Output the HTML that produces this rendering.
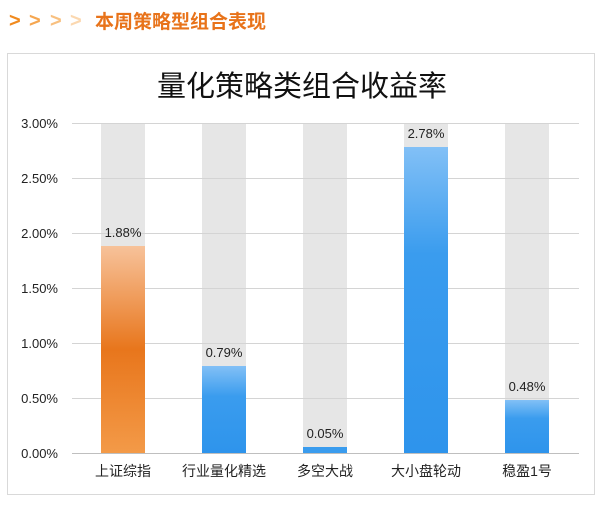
<!DOCTYPE html>
<html><head><meta charset="utf-8"><style>
body{margin:0;background:#fff;width:604px;height:504px;overflow:hidden;font-family:"Liberation Sans","Noto Sans CJK SC",sans-serif;}
</style></head><body>
<svg width="604" height="504" xmlns="http://www.w3.org/2000/svg" font-family="Liberation Sans, Noto Sans CJK SC, sans-serif">
<defs>
<linearGradient id="og" x1="0" y1="0" x2="0" y2="1">
<stop offset="0" stop-color="#f7c29a"/><stop offset="0.5" stop-color="#e8761c"/><stop offset="1" stop-color="#f39a48"/>
</linearGradient>
<linearGradient id="bg" x1="0" y1="0" x2="0" y2="1">
<stop offset="0" stop-color="#82c0f6"/><stop offset="0.35" stop-color="#3a9cee"/><stop offset="1" stop-color="#2e94ec"/>
</linearGradient>
</defs>
<g font-size="20" font-weight="bold">
<text x="9" y="27" fill="#f08a1e">&gt;</text>
<text x="29" y="27" fill="#f5a650">&gt;</text>
<text x="50" y="27" fill="#f8c080">&gt;</text>
<text x="70" y="27" fill="#fbd8b0">&gt;</text>
<text x="95" y="28" fill="#e8731a" font-size="19">本周策略型组合表现</text>
</g>
<rect x="7.5" y="53.5" width="587" height="441" fill="#fff" stroke="#d9d9d9"/>
<text x="302" y="96" text-anchor="middle" font-size="29" fill="#111" font-family="Noto Sans CJK SC, sans-serif">量化策略类组合收益率</text>
<g fill="#e6e6e6">
<rect x="101" y="123" width="44" height="330"/>
<rect x="202" y="123" width="44" height="330"/>
<rect x="303" y="123" width="44" height="330"/>
<rect x="404" y="123" width="44" height="330"/>
<rect x="505" y="123" width="44" height="330"/>
</g>
<g stroke="#d4d4d4" stroke-width="1">
<line x1="72" y1="123.5" x2="579" y2="123.5"/>
<line x1="72" y1="178.5" x2="579" y2="178.5"/>
<line x1="72" y1="233.5" x2="579" y2="233.5"/>
<line x1="72" y1="288.5" x2="579" y2="288.5"/>
<line x1="72" y1="343.5" x2="579" y2="343.5"/>
<line x1="72" y1="398.5" x2="579" y2="398.5"/>
</g>
<rect x="101" y="246" width="44" height="207" fill="url(#og)"/>
<rect x="202" y="366" width="44" height="87" fill="url(#bg)"/>
<rect x="303" y="447" width="44" height="6" fill="#3a9cee"/>
<rect x="404" y="147" width="44" height="306" fill="url(#bg)"/>
<rect x="505" y="400" width="44" height="53" fill="url(#bg)"/>
<line x1="72" y1="453.5" x2="579" y2="453.5" stroke="#bfbfbf"/>
<g font-size="13" fill="#222" text-anchor="end">
<text x="58" y="128">3.00%</text>
<text x="58" y="183">2.50%</text>
<text x="58" y="238">2.00%</text>
<text x="58" y="293">1.50%</text>
<text x="58" y="348">1.00%</text>
<text x="58" y="403">0.50%</text>
<text x="58" y="458">0.00%</text>
</g>
<g font-size="13" fill="#222" text-anchor="middle">
<text x="123" y="237">1.88%</text>
<text x="224" y="357">0.79%</text>
<text x="325" y="438">0.05%</text>
<text x="426" y="138">2.78%</text>
<text x="527" y="391">0.48%</text>
</g>
<g font-size="14" fill="#222" text-anchor="middle">
<text x="123" y="476">上证综指</text>
<text x="224" y="476">行业量化精选</text>
<text x="325" y="476">多空大战</text>
<text x="426" y="476">大小盘轮动</text>
<text x="527" y="476">稳盈1号</text>
</g>
</svg>
</body></html>
